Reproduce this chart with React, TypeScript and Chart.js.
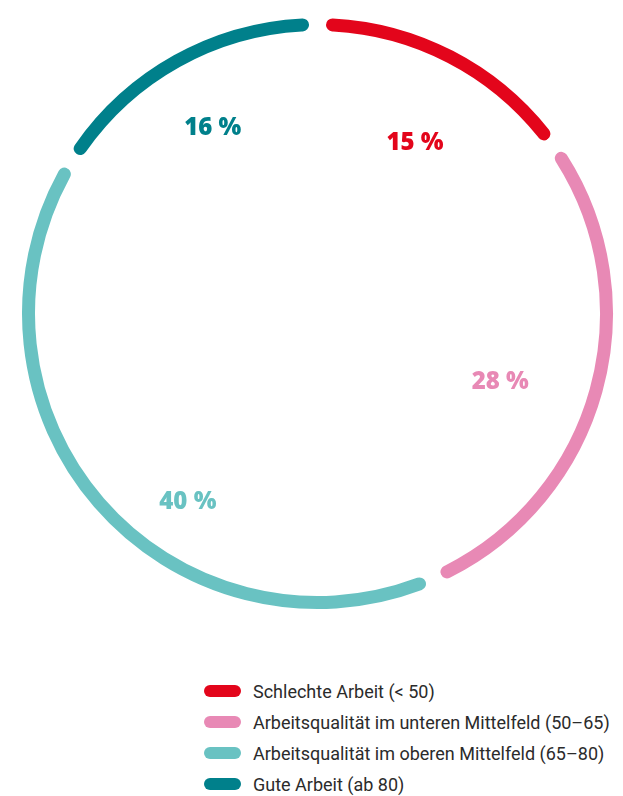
import React, { useEffect, useRef } from "react";
import { Chart, registerables } from "chart.js";

Chart.register(...registerables);

// ---- data ----
const categories = [
  "Schlechte Arbeit (< 50)",
  "Arbeitsqualität im unteren Mittelfeld (50–65)",
  "Arbeitsqualität im oberen Mittelfeld (65–80)",
  "Gute Arbeit (ab 80)",
];
const shares = [15, 28, 40, 16];
const valueLabels = ["15 %", "28 %", "40 %", "16 %"];

// ---- styling ----
const colors = ["#E3051B", "#E889B5", "#69C2C2", "#00808B"];
const labelRadius = [0.669, 0.658, 0.769, 0.725];
const labelAngleShift = [2.3, 4.5, -14.3, -0.2];

const RING = 13; // visible ring thickness
const GAP = 17; // white gap between segments
const VISIBLE_OUTER = 295.5;

const labelPlugin = {
  id: "pctLabels",
  afterDatasetsDraw(chart: any) {
    const ctx = chart.ctx;
    const meta = chart.getDatasetMeta(0);
    ctx.save();
    ctx.font = "800 24px 'Open Sans'";
    ctx.textAlign = "center";
    ctx.textBaseline = "middle";
    meta.data.forEach((arc: any, i: number) => {
      const p = arc.getProps(["x", "y", "startAngle", "endAngle", "outerRadius"], true);
      const mid = (p.startAngle + p.endAngle) / 2 + (labelAngleShift[i] * Math.PI) / 180;
      const r = (p.outerRadius - GAP / 2) * labelRadius[i];
      ctx.fillStyle = colors[i];
      ctx.fillText(valueLabels[i], p.x + Math.cos(mid) * r, p.y + Math.sin(mid) * r + 2);
    });
    ctx.restore();
  },
};

export default function App() {
  const ref = useRef<HTMLCanvasElement | null>(null);
  useEffect(() => {
    if (!ref.current) return;
    const outer = VISIBLE_OUTER + GAP / 2;
    const inner = VISIBLE_OUTER - RING - GAP / 2;
    const chart = new Chart(ref.current, {
      type: "doughnut",
      data: {
        labels: categories,
        datasets: [
          {
            data: shares,
            backgroundColor: colors,
            borderColor: "#ffffff",
            borderWidth: GAP,
            borderRadius: (outer - inner) / 2,
            hoverOffset: 0,
            clip: false as any,
          },
        ],
      },
      options: {
        responsive: false,
        animation: false,
        radius: outer,
        cutout: `${(inner / outer) * 100}%`,
        rotation: 0,
        layout: { padding: { left: 12, right: 0, top: 0, bottom: 0 } },
        events: [],
        plugins: {
          legend: { display: false },
          tooltip: { enabled: false },
        },
      } as any,
      plugins: [labelPlugin],
    });
    return () => chart.destroy();
  }, []);

  return (
    <div style={{ position: "relative", width: 607, height: 788 }}>
      <canvas ref={ref} width={607} height={611} style={{ display: "block" }} />
      <div style={{ position: "absolute", left: 196, top: 667.5 }}>
        {categories.map((c, i) => (
          <div key={c} style={{ display: "flex", alignItems: "center", height: 31 }}>
            <span
              style={{
                display: "inline-block",
                width: 37,
                height: 12,
                borderRadius: 6,
                background: colors[i],
                marginRight: 12,
              }}
            />
            <span style={{ fontFamily: "Roboto", fontSize: 18, color: "#2b2b2b", whiteSpace: "nowrap" }}>{c}</span>
          </div>
        ))}
      </div>
    </div>
  );
}
